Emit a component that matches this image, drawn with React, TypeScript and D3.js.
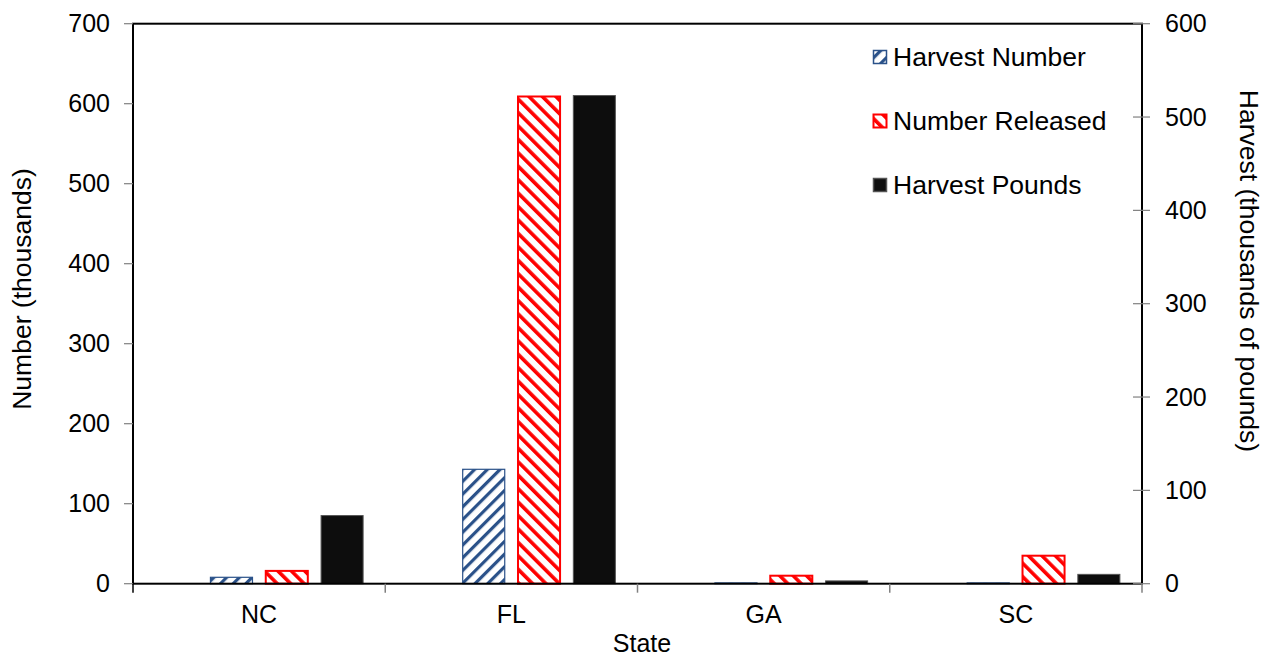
import React from "react";
import * as d3 from "d3";

const states = ["NC", "FL", "GA", "SC"];
const harvestNumber = [8, 143, 1, 1];
const numberReleased = [16, 609, 10, 35];
const harvestPounds = [73, 523, 3, 10];
const leftTicks = [0, 100, 200, 300, 400, 500, 600, 700];
const rightTicks = [0, 100, 200, 300, 400, 500, 600];
const slots = ["pad", "Harvest Number", "Number Released", "Harvest Pounds"];
const legendItems = ["Harvest Number", "Number Released", "Harvest Pounds"];

const W = 1272;
const H = 660;
const left = 133;
const right = 1142;
const top = 23.7;
const bottom = 583.7;
const font = "'Liberation Sans', Arial, sans-serif";
const fs = 25;
const fsTitle = 26.5;

export default function App() {
  const x = d3.scaleBand<string>().domain(states).range([left, right]).padding(0);
  const inner = d3
    .scaleBand<string>()
    .domain(slots)
    .range([0, x.bandwidth()])
    .paddingInner(0.24)
    .paddingOuter(0.4);
  const yL = d3.scaleLinear().domain([0, 700]).range([bottom, top]);
  const yR = d3.scaleLinear().domain([0, 600]).range([bottom, top]);
  const bw = inner.bandwidth();

  const fills: Record<string, string> = {
    "Harvest Number": "url(#pBlue)",
    "Number Released": "url(#pRed)",
    "Harvest Pounds": "#0d0d0d",
  };
  const strokes: Record<string, string> = {
    "Harvest Number": "#2a5189",
    "Number Released": "#ff0000",
    "Harvest Pounds": "#555",
  };
  const sw: Record<string, number> = {
    "Harvest Number": 1.2,
    "Number Released": 2,
    "Harvest Pounds": 1,
  };

  const bars: { key: string; x: number; y0: number; y1: number; s: string }[] = [];
  states.forEach((st, i) => {
    const bx = x(st)!;
    bars.push({ key: st + "hn", s: "Harvest Number", x: bx + inner("Harvest Number")!, y0: yL(harvestNumber[i]), y1: yL(0) });
    bars.push({ key: st + "nr", s: "Number Released", x: bx + inner("Number Released")!, y0: yL(numberReleased[i]), y1: yL(0) });
    bars.push({ key: st + "hp", s: "Harvest Pounds", x: bx + inner("Harvest Pounds")!, y0: yR(harvestPounds[i]), y1: yR(0) });
  });

  const catBounds = [...states.map((s) => x(s)!), right];

  return (
    <svg width={W} height={H} style={{ position: "absolute", left: 0, top: 0, background: "#fff" }}>
      <defs>
        <pattern id="pBlue" patternUnits="userSpaceOnUse" width={9} height={9} patternTransform="rotate(45)">
          <rect width={9} height={9} fill="#fff" />
          <rect x={0} y={0} width={3.2} height={9} fill="#2a5189" />
        </pattern>
        <pattern id="pRed" patternUnits="userSpaceOnUse" width={9.5} height={9.5} patternTransform="rotate(-45)">
          <rect width={9.5} height={9.5} fill="#fff" />
          <rect x={0} y={0} width={3.6} height={9.5} fill="#ff0000" />
        </pattern>
      </defs>

      {bars.map((b) => (
        <rect
          key={b.key}
          x={b.x}
          y={b.y0}
          width={bw}
          height={Math.max(0, b.y1 - b.y0)}
          fill={fills[b.s]}
          stroke={strokes[b.s]}
          strokeWidth={sw[b.s]}
        />
      ))}

      <rect x={left} y={top} width={right - left} height={bottom - top} fill="none" stroke="#000" strokeWidth={2} />

      {leftTicks.map((t) => (
        <g key={"l" + t}>
          <line x1={left - 9} x2={left} y1={yL(t)} y2={yL(t)} stroke="#808080" strokeWidth={1.2} />
          <text x={110} y={yL(t)} dy="0.35em" textAnchor="end" fontFamily={font} fontSize={fs} fill="#000">
            {t}
          </text>
        </g>
      ))}

      {rightTicks.map((t) => (
        <g key={"r" + t}>
          <line x1={right - 9} x2={right + 8} y1={yR(t)} y2={yR(t)} stroke="#808080" strokeWidth={1.2} />
          <text x={1165} y={yR(t)} dy="0.35em" textAnchor="start" fontFamily={font} fontSize={fs} fill="#000">
            {t}
          </text>
        </g>
      ))}

      {catBounds.map((cx, i) => (
        <line key={"c" + i} x1={cx} x2={cx} y1={bottom} y2={bottom + 9} stroke={i === 0 ? "#000" : "#808080"} strokeWidth={1.5} />
      ))}
      {states.map((s) => (
        <text key={"t" + s} x={x(s)! + x.bandwidth() / 2} y={614} dy="0.35em" textAnchor="middle" fontFamily={font} fontSize={fs} fill="#000">
          {s}
        </text>
      ))}

      <text x={642} y={643} dy="0.35em" textAnchor="middle" fontFamily={font} fontSize={fs} fill="#000">
        State
      </text>
      <text
        transform={`translate(22,289) rotate(-90)`}
        dy="0.35em"
        textAnchor="middle"
        fontFamily={font}
        fontSize={fsTitle}
        fill="#000"
      >
        Number (thousands)
      </text>
      <text
        transform={`translate(1249,271) rotate(90)`}
        dy="0.35em"
        textAnchor="middle"
        fontFamily={font}
        fontSize={fsTitle}
        fill="#000"
      >
        Harvest (thousands of pounds)
      </text>

      {legendItems.map((s, i) => {
        const cy = 57 + i * 64;
        return (
          <g key={"lg" + s}>
            <rect
              x={873.5}
              y={cy - 6.5}
              width={13}
              height={13}
              fill={fills[s]}
              stroke={strokes[s]}
              strokeWidth={s === "Number Released" ? 2 : 1.5}
            />
            <text x={893} y={cy} dy="0.35em" fontFamily={font} fontSize={fsTitle} fill="#000">
              {s}
            </text>
          </g>
        );
      })}
    </svg>
  );
}
